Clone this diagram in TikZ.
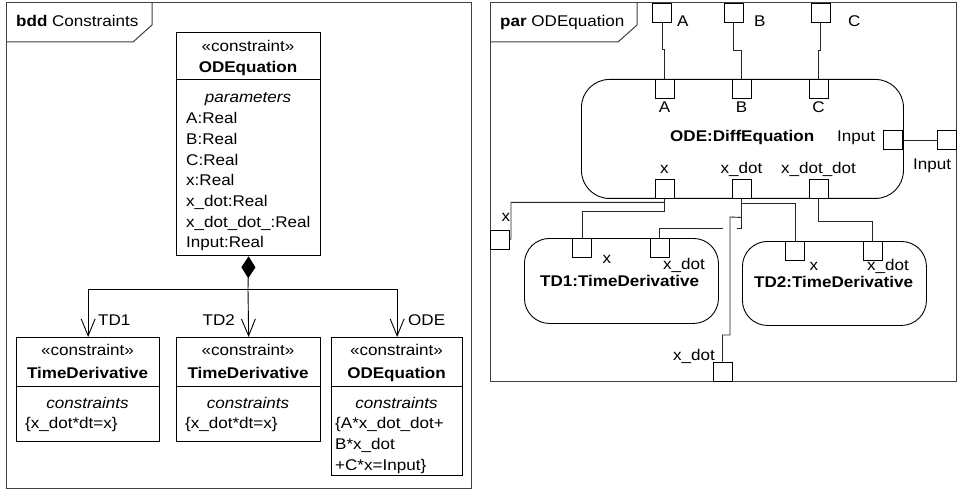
\documentclass[tikz,border=0pt]{standalone}
\usepackage{fontspec}
\setmainfont{Liberation Sans}[FakeStretch=1.1]
\usetikzlibrary{arrows.meta}
\begin{document}
\begin{tikzpicture}[x=1pt,y=-1pt,
  txt/.style={inner sep=0pt, font=\fontsize{15.5}{19}\selectfont},
  frame/.style={draw=black!75, line width=1pt},
  blk/.style={draw=black, line width=1.3pt, inner sep=0pt, anchor=north west},
  part/.style={draw=black, line width=0.9pt, rounded corners=28pt, inner sep=0pt, anchor=north west},
  port/.style={draw=black, line width=0.9pt, fill=white, minimum size=19pt, inner sep=0pt},
  wire/.style={draw=black!85, line width=0.9pt},
  assoc/.style={draw=black, line width=0.9pt, -{Straight Barb[length=17pt,width=14pt]}},
]
\fill[white] (0,0) rectangle (958,497);
\useasboundingbox (0,0) rectangle (958,497);

% ---------------- block definition diagram ----------------
\draw[frame] (6,3) rectangle (471,488);
\draw[frame] (6,42) -- (133,42) -- (152,25) -- (152,3);
\node[txt, anchor=base west] (bddTitle) at (16,27) {\textbf{bdd} Constraints};

% owning constraint block
\node[blk, minimum width=144pt, minimum height=223pt] (ode) at (176,32) {};
\draw[line width=1pt] (176,80) -- (320,80);
\node[txt, anchor=base] (odeSt) at (248,52) {«constraint»};
\node[txt, anchor=base] (odeNm) at (248,73) {\textbf{ODEquation}};
\node[txt, anchor=base] (odePr) at (248,103) {\textit{parameters}};
\foreach \t [count=\i] in {A:Real, B:Real, C:Real, x:Real, x\_dot:Real, x\_dot\_dot\_:Real, Input:Real}
  \node[txt, anchor=base west] (prm\i) at (186,{124+20.6*(\i-1)}) {\t};

% owned constraint blocks
\node[blk, minimum width=143pt, minimum height=104pt] (td1) at (16,337) {};
\node[blk, minimum width=144pt, minimum height=104pt] (td2) at (176,337) {};
\node[blk, minimum width=131pt, minimum height=138pt] (ode2) at (331,337) {};
\draw[line width=1pt] (16,386) -- (159,386);
\draw[line width=1pt] (176,386) -- (320,386);
\draw[line width=1pt] (331,386) -- (462,386);

\node[txt, anchor=base] (td1St) at (87.5,355) {«constraint»};
\node[txt, anchor=base] (td1Nm) at (87.5,378) {\textbf{TimeDerivative}};
\node[txt, anchor=base] (td1Cs) at (87.5,408) {\textit{constraints}};
\node[txt, anchor=base west] (td1Eq) at (25,428) {\{x\_dot*dt=x\}};

\node[txt, anchor=base] (td2St) at (248,355) {«constraint»};
\node[txt, anchor=base] (td2Nm) at (248,378) {\textbf{TimeDerivative}};
\node[txt, anchor=base] (td2Cs) at (248,408) {\textit{constraints}};
\node[txt, anchor=base west] (td2Eq) at (185,428) {\{x\_dot*dt=x\}};

\node[txt, anchor=base] (ode2St) at (396.5,355) {«constraint»};
\node[txt, anchor=base] (ode2Nm) at (396.5,378) {\textbf{ODEquation}};
\node[txt, anchor=base] (ode2Cs) at (396.5,408) {\textit{constraints}};
\node[txt, anchor=base west] (ode2Eq1) at (335,428) {\{A*x\_dot\_dot+};
\node[txt, anchor=base west] (ode2Eq2) at (335,449) {B*x\_dot};
\node[txt, anchor=base west] (ode2Eq3) at (335,470) {+C*x=Input\}};

% composition
\coordinate (bus) at (248,289);
\draw[line width=0.9pt, {Diamond[length=22pt,width=14pt]}-] (ode.south) -- (bus);
\draw[assoc] (bus) -| (td1.north);
\draw[assoc] (bus) -- (td2.north);
\draw[assoc] (bus) -| (ode2.north);
\node[txt, anchor=base west] (lTD1) at (98,325) {TD1};
\node[txt, anchor=base east] (lTD2) at (235,325) {TD2};
\node[txt, anchor=base west] (lODE) at (408,325) {ODE};

% ---------------- parametric diagram ----------------
\draw[frame] (490,3) rectangle (956,381);
\draw[frame] (490,42) -- (618,42) -- (637,25) -- (637,3);
\node[txt, anchor=base west] (parTitle) at (500,27) {\textbf{par} ODEquation};

% constraint properties
\node[part, minimum width=322pt, minimum height=119pt] (diff) at (581,79) {};
\node[txt, anchor=base west] (diffNm) at (670,142) {\textbf{ODE:DiffEquation}};
\node[part, rounded corners=25pt, minimum width=194pt, minimum height=85pt] (tdA) at (524,238) {};
\node[txt, anchor=base west] (tdANm) at (540,286) {\textbf{TD1:TimeDerivative}};
\node[part, rounded corners=25pt, minimum width=184pt, minimum height=84pt] (tdB) at (742,241) {};
\node[txt, anchor=base west] (tdBNm) at (754,287) {\textbf{TD2:TimeDerivative}};

% boundary parameters
\node[port] (pA) at (662,13) {};
\node[port] (pB) at (733.5,13) {};
\node[port] (pC) at (820.5,13) {};
\node[port] (fIn) at (947,140) {};
\node[port] (fx) at (499.5,239.5) {};
\node[port] (fxd) at (722.5,371.5) {};
\node[txt, anchor=base west] (lpA) at (677,27) {A};
\node[txt, anchor=base west] (lpB) at (754,27) {B};
\node[txt, anchor=base west] (lpC) at (848,27) {C};
\node[txt, anchor=base west] (lfIn) at (913,170) {Input};
\node[txt, anchor=base] (lfx) at (506,222) {x};
\node[txt, anchor=base west] (lfxd) at (673,360) {x\_dot};

% parameters of ODE:DiffEquation
\node[port] (oA) at (664.5,88.5) {};
\node[port] (oB) at (741.5,88.5) {};
\node[port] (oC) at (818.5,88.5) {};
\node[port] (oIn) at (893,140) {};
\node[port] (ox) at (664.5,188.5) {};
\node[port] (oxd) at (741.5,188.5) {};
\node[port] (oxdd) at (818.5,188.5) {};
\node[txt, anchor=base] (loA) at (664.5,113) {A};
\node[txt, anchor=base] (loB) at (741.5,113) {B};
\node[txt, anchor=base] (loC) at (818.5,113) {C};
\node[txt, anchor=base west] (loIn) at (837,142) {Input};
\node[txt, anchor=base] (lox) at (664.5,174) {x};
\node[txt, anchor=base] (loxd) at (741.5,174) {x\_dot};
\node[txt, anchor=base] (loxdd) at (818.5,174) {x\_dot\_dot};

% parameters of the time derivatives
\node[port] (t1x) at (582,247.5) {};
\node[port] (t1xd) at (659.5,247.5) {};
\node[port] (t2x) at (795,250.5) {};
\node[port] (t2xd) at (872.5,250.5) {};
\node[txt, anchor=base] (lt1x) at (607,263) {x};
\node[txt, anchor=base west] (lt1xd) at (663,269) {x\_dot};
\node[txt, anchor=base] (lt2x) at (814,270) {x};
\node[txt, anchor=base west] (lt2xd) at (867,270) {x\_dot};

% binding connectors
\draw[wire] (pA.south) -- ++(0,26.5) -| (oA.north);
\draw[wire] (pB.south) -- ++(0,27.5) -| (oB.north);
\draw[wire] (pC.south) -- ++(0,27.5) -| (oC.north);
\draw[wire] (oIn.east) -- (fIn.west);
\draw[wire] (ox.south) -- ++(0,4) -| (511,239) -- (fx.east);
\draw[wire] (ox.south) -- ++(0,13) -| (t1x.north);
\draw[wire] (oxd.south) -- ++(0,5) -| (t2x.north);
\draw[wire] (oxdd.south) -- ++(0,23) -| (t2xd.north);
\draw[wire] (oxd.south) -- ++(0,19) -- (730,217) -- (730,335) -- (722.5,335) -- (fxd.north);
\draw[wire] (oxd.south) -- (741.5,228) -- (737,228) (723,228) -- (659.5,228) -- (t1xd.north);
\end{tikzpicture}
\end{document}
